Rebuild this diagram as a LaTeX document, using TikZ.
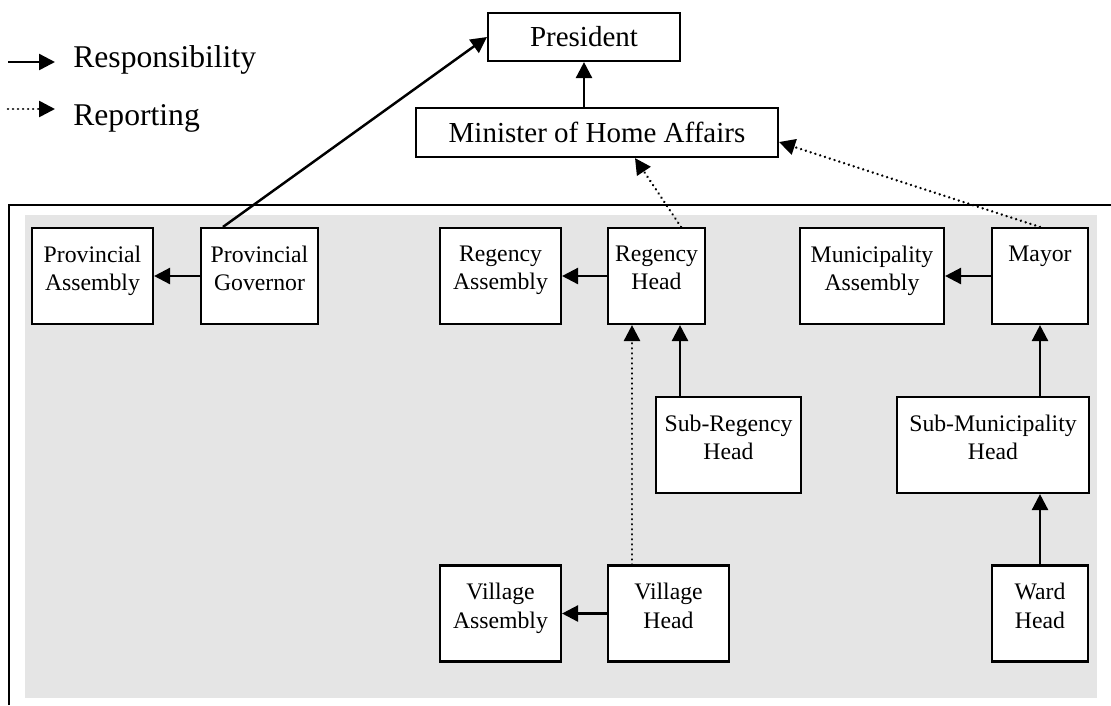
\documentclass[tikz,border=0pt]{standalone}
\usepackage{fontspec}
\setmainfont{Liberation Serif}
\usetikzlibrary{arrows.meta,calc}

\begin{document}
\begin{tikzpicture}[
  x=1cm, y=1cm,
  font=\fontsize{16.5}{16.2}\selectfont,
  headbox/.style={draw, line width=1.2pt, fill=white, minimum height=0.96cm, inner sep=0pt},
  unit/.style={draw, line width=1.2pt, fill=white, minimum height=1.92cm, inner sep=0pt},
  unittext/.style={anchor=north, inner sep=0pt, yshift=-0.37cm, align=center, font=\fontsize{13.5}{16.1}\selectfont},
  legend/.style={inner sep=0pt, font=\fontsize{18}{20}\selectfont},
  resp/.style={-{Triangle[length=0.32cm, width=0.32cm]}, line width=1.4pt},
  rep/.style={-{Triangle[length=0.32cm, width=0.32cm]}, line width=1.5pt, line cap=round, dash pattern=on 0.01pt off 2.85pt}
]
\useasboundingbox (0,0) rectangle (22.22,-14.10);

% region
\fill[black!10] (0.50,-4.30) rectangle (21.94,-13.96);
\draw[line width=1.2pt] (0.18,-14.10) -- (0.18,-4.10) -- (22.22,-4.10);

% legend
\node[legend, anchor=base west] (lresp) at (1.46,-1.34) {Responsibility};
\node[legend, anchor=base west] (lrep) at (1.46,-2.50) {Reporting};
\coordinate (lresp0) at (0.16,-1.24);
\coordinate (lrep0) at (0.16,-2.18);
\draw[resp] (lresp0) -- ([xshift=-0.36cm]lresp.west |- lresp0);
\draw[rep] (lrep0) -- ([xshift=-0.36cm]lrep.west |- lrep0);

% central
\node[headbox, minimum width=3.84cm] (pres) at (11.68,-0.74) {President};
\node[headbox, minimum width=7.24cm, minimum height=0.98cm] (mha) at (11.94,-2.65) {Minister of Home Affairs};

% province
\node[unit, minimum width=2.42cm, label={[unittext]north:{Provincial\\Assembly}}] (pa) at (1.85,-5.52) {};
\node[unit, minimum width=2.34cm, label={[unittext]north:{Provincial\\Governor}}] (pg) at (5.19,-5.52) {};

% regency
\node[unit, minimum width=2.42cm, label={[unittext]north:{Regency\\Assembly}}] (ra) at (10.01,-5.52) {};
\node[unit, minimum width=1.94cm, label={[unittext]north:{Regency\\Head}}] (rh) at (13.13,-5.52) {};
\node[unit, minimum width=2.90cm, label={[unittext]north:{Sub-Regency\\Head}}] (srh) at (14.57,-8.90) {};
\node[unit, minimum width=2.42cm, label={[unittext]north:{Village\\Assembly}}] (va) at (10.01,-12.27) {};
\node[unit, minimum width=2.42cm, label={[unittext]north:{Village\\Head}}] (vh) at (13.37,-12.27) {};

% municipality
\node[unit, minimum width=2.88cm, label={[unittext]north:{Municipality\\Assembly}}] (ma) at (17.44,-5.52) {};
\node[unit, minimum width=1.92cm, label={[unittext]north:{Mayor}}] (mayor) at (20.80,-5.52) {};
\node[unit, minimum width=3.84cm, label={[unittext]north:{Sub-Municipality\\Head}}] (smh) at (19.86,-8.90) {};
\node[unit, minimum width=1.92cm, label={[unittext]north:{Ward\\Head}}] (wh) at (20.80,-12.27) {};

% responsibility
\draw[resp] ([xshift=0.46cm]pg.north west) -- (pres.west);
\draw[resp] (pres.south |- mha.north) -- (pres.south);
\draw[resp] (pg.west) -- (pa.east);
\draw[resp] (rh.west) -- (ra.east);
\draw[resp] (mayor.west) -- (ma.east);
\draw[resp] (vh.west) -- (va.east);
\draw[resp] ([xshift=0.47cm]rh.south |- srh.north) -- ([xshift=0.47cm]rh.south);
\draw[resp] (mayor.south |- smh.north) -- (mayor.south);
\draw[resp] (wh.north) -- (wh.north |- smh.south);

% reporting
\draw[rep] ([xshift=0.49cm]rh.north) -- ([xshift=0.76cm]mha.south);
\draw[rep] (mayor.north) -- ([yshift=-0.19cm]mha.east);
\draw[rep] ([xshift=-0.49cm]rh.south |- vh.north) -- ([xshift=-0.49cm]rh.south);
\end{tikzpicture}
\end{document}
